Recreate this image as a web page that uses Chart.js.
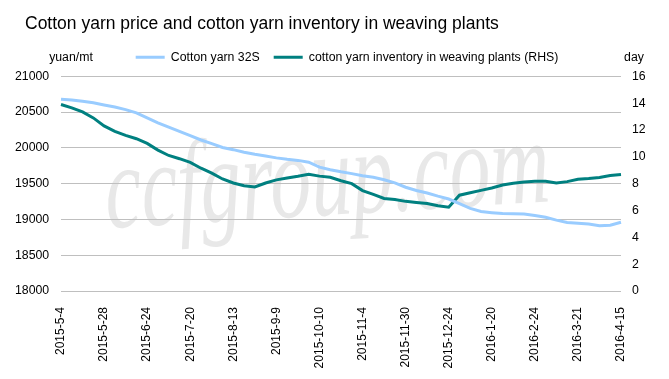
<!DOCTYPE html>
<html><head><meta charset="utf-8">
<script src="https://cdn.jsdelivr.net/npm/chart.js@4/dist/chart.umd.min.js"></script>
<style>html,body{margin:0;padding:0;background:#fff;overflow:hidden}</style>
</head><body>
<canvas id="c" width="669" height="379"></canvas>
<script>
// ---- data ----
const tickLabels = ['2015-5-4','2015-5-28','2015-6-24','2015-7-20','2015-8-13','2015-9-9','2015-10-10',
  '2015-11-4','2015-11-30','2015-12-24','2016-1-20','2016-2-24','2016-3-21','2016-4-15'];
const pointsPerLabel = 4;
const price32S = [20680,20670,20650,20630,20600,20570,20535,20490,20420,20350,20290,20230,20170,20110,
  20060,20005,19975,19940,19910,19885,19860,19840,19825,19800,19730,19695,19665,19640,19610,19590,
  19555,19510,19450,19405,19370,19325,19285,19220,19155,19110,19095,19082,19080,19075,19055,19030,
  18990,18958,18948,18935,18912,18920,18960];
const inventoryDays = [13.9,13.65,13.35,12.9,12.3,11.9,11.6,11.35,11.0,10.5,10.1,9.86,9.58,9.15,8.78,
  8.35,8.05,7.85,7.75,8.05,8.28,8.42,8.55,8.7,8.56,8.48,8.22,8.0,7.48,7.2,6.9,6.82,6.68,6.6,6.52,6.35,
  6.25,7.14,7.32,7.5,7.68,7.9,8.03,8.12,8.18,8.18,8.05,8.15,8.32,8.38,8.46,8.6,8.68];
const categories = price32S.map((_, i) => (i % pointsPerLabel === 0 ? tickLabels[i / pointsPerLabel] : ''));

const FONT = '"Liberation Sans", Arial, sans-serif';

const bgAndWatermark = {
  id: 'bgAndWatermark',
  beforeDraw(chart) {
    const ctx = chart.ctx;
    ctx.save();
    ctx.fillStyle = '#fff';
    ctx.fillRect(0, 0, chart.width, chart.height);
    ctx.font = 'italic 120px "Liberation Serif", serif';
    ctx.fillStyle = '#e8e8e8';
    ctx.textBaseline = 'alphabetic';
    ctx.translate(107, 228);
    ctx.rotate(-0.06);
    ctx.fillText('ccfgroup.com', 0, 0, 445);
    ctx.restore();
  }
};

const unitLabels = {
  id: 'unitLabels',
  afterDraw(chart) {
    const ctx = chart.ctx;
    const hb = chart.legend.legendHitBoxes[0];
    const y = hb.top + hb.height / 2;
    ctx.save();
    ctx.font = '12.3px ' + FONT;
    ctx.fillStyle = '#000';
    ctx.textBaseline = 'middle';
    ctx.textAlign = 'center';
    ctx.fillText('yuan/mt', chart.chartArea.left + 10, y);
    ctx.fillText('day', chart.chartArea.right + 13, y);
    ctx.restore();
  }
};

new Chart(document.getElementById('c'), {
  type: 'line',
  data: {
    labels: categories,
    datasets: [
      { label: 'Cotton yarn 32S', data: price32S, yAxisID: 'y', borderColor: '#99ccff',
        backgroundColor: '#99ccff', borderWidth: 3, pointRadius: 0, tension: 0 },
      { label: 'cotton yarn inventory in weaving plants (RHS)', data: inventoryDays, yAxisID: 'y1',
        borderColor: '#008080', backgroundColor: '#008080', borderWidth: 3, pointRadius: 0, tension: 0 }
    ]
  },
  options: {
    responsive: false, animation: false, devicePixelRatio: 1,
    layout: { padding: { left: 25, right: 0, top: 0, bottom: 0 } },
    plugins: {
      title: { display: true, text: 'Cotton yarn price and cotton yarn inventory in weaving plants',
        align: 'start', color: '#000', font: { family: FONT, size: 17.5, weight: 'normal', lineHeight: 1.2 },
        padding: { top: 14, bottom: 2 } },
      subtitle: { display: true, text: ' ', position: 'top', weight: 500, font: { size: 1, lineHeight: 1 },
        padding: { top: 0, bottom: 2 } },
      legend: { display: true, position: 'top', align: 'center',
        labels: { color: '#000', font: { family: FONT, size: 12.3 }, boxWidth: 29, boxHeight: 3, padding: 14,
          generateLabels(chart) {
            return Chart.defaults.plugins.legend.labels.generateLabels(chart).map(l => {
              l.lineWidth = 0; l.fillStyle = l.strokeStyle; return l;
            });
          } } },
      tooltip: { enabled: false }
    },
    scales: {
      x: {
        grid: { display: false }, border: { display: false },
        ticks: { autoSkip: false, minRotation: 90, maxRotation: 90, padding: 8, color: '#000',
          font: { family: FONT, size: 12 } },
        afterFit(s) { s.height = 88; }
      },
      y: {
        position: 'left', min: 18000, max: 21000,
        ticks: { stepSize: 500, mirror: true, padding: -46, color: '#000', font: { family: FONT, size: 12.3 },
          callback: v => String(v) },
        grid: { color: '#bfbfbf', lineWidth: 1, drawTicks: false }, border: { display: false },
        afterFit(s) { s.width = 36; }
      },
      y1: {
        position: 'right', min: 0, max: 16,
        ticks: { stepSize: 2, padding: 11, color: '#000', font: { family: FONT, size: 12.3 } },
        grid: { display: false, drawTicks: false }, border: { display: false },
        afterFit(s) { s.width = 48; }
      }
    }
  },
  plugins: [bgAndWatermark, unitLabels]
});
</script>
</body></html>
